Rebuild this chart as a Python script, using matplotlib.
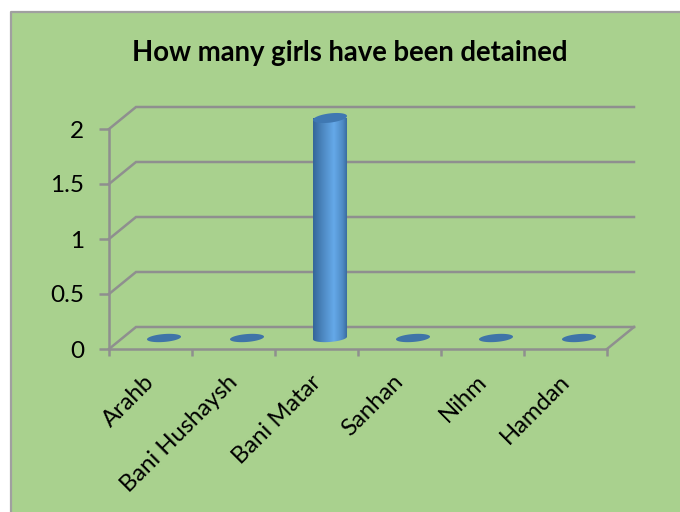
import numpy as np
import matplotlib
matplotlib.use('Agg')
import matplotlib.pyplot as plt
from matplotlib.patches import Rectangle, Polygon

districts = ['Arahb', 'Bani Hushaysh', 'Bani Matar', 'Sanhan', 'Nihm', 'Hamdan']
girls_detained = [0, 0, 2, 0, 0, 0]
value_ticks = [0, 0.5, 1, 1.5, 2]
value_labels = ['0', '0.5', '1', '1.5', '2']

plt.rcParams['font.family'] = ['Lato', 'DejaVu Sans']

GREEN = '#a9d18e'
LINE = '#8f8f8f'
LW = 1.8
depth_x = 27 / 83      # 3d offset of the back wall, in category units
depth_y = 22 / 110     # and in value units
bar_w = 0.205          # half width of cylinder
ell_h = 0.036          # half height of end caps
ell_tilt = 0.012

fig = plt.figure(figsize=(6.8, 5.12), dpi=100, facecolor='white')
fig.add_artist(Rectangle((11 / 680, 0), 669 / 680, 500 / 512, transform=fig.transFigure,
                         facecolor=GREEN, edgecolor='none', zorder=-2))
fig.add_artist(plt.Line2D([11 / 680, 11 / 680, 1], [0, 500 / 512, 500 / 512], color='#a0a0a0', lw=1.6, zorder=-1))

ax = fig.add_axes([109 / 680, 163 / 512, 498 / 680, 220 / 512])
ax.patch.set_alpha(0)
ax.set_xlim(-0.5, 5.5)
ax.set_ylim(0, 2)
for name in ['top', 'right']:
    ax.spines[name].set_visible(False)
for name in ['left', 'bottom']:
    ax.spines[name].set_color(LINE)
    ax.spines[name].set_linewidth(LW)

# back wall lines and side wall diagonals
for v in value_ticks:
    ax.plot([-0.5, -0.5 + depth_x, 5.5 + depth_x], [v, v + depth_y, v + depth_y],
            color=LINE, lw=LW, clip_on=False, zorder=1, solid_joinstyle='miter')
ax.plot([5.5, 5.5 + depth_x], [0, depth_y], color=LINE, lw=LW, clip_on=False, zorder=1)


def cap(xc, v, h=ell_h, tilt=ell_tilt):
    t = np.linspace(0, 2 * np.pi, 80)
    return np.column_stack([xc + bar_w * np.cos(t), v + h * np.sin(t) + tilt * np.cos(t)])


cx = np.arange(len(districts)) + depth_x / 2
for xc, val in zip(cx, girls_detained):
    base = depth_y / 2
    if val > 0:
        grad = np.interp(np.linspace(0, 1, 60), [0, 0.25, 0.6, 0.85, 1], [0, 0.45, 1, 0.55, 0])
        cmap = matplotlib.colors.LinearSegmentedColormap.from_list('cyl', ['#35679a', '#64a8e8'])
        im = ax.imshow(grad[None, :], cmap=cmap, aspect='auto', zorder=3,
                       extent=[xc - bar_w, xc + bar_w, base - 0.09, base + val])
        ax.set_xlim(-0.5, 5.5)
        ax.set_ylim(0, 2)
        # clip to body: straight sides, rounded bottom
        t = np.linspace(np.pi, 2 * np.pi, 40)
        outline = np.column_stack([xc + bar_w * np.cos(t), base + ell_h * np.sin(t) + ell_tilt * np.cos(t)])
        outline = np.vstack([outline, [xc + bar_w, base + val], [xc - bar_w, base + val]])
        clip = Polygon(outline, transform=ax.transData, facecolor='none', edgecolor='none', clip_on=False)
        ax.add_patch(clip)
        im.set_clip_path(clip)
        im.set_clip_box(fig.bbox)  # bar top sits above the axes box because of the depth offset
        ax.add_patch(Polygon(cap(xc, base + val, h=0.042, tilt=0.018), facecolor='#3f78b2',
                             edgecolor='none', zorder=4, clip_on=False))
    else:
        ax.add_patch(Polygon(cap(xc, base), facecolor='#3f74a8', edgecolor='none', zorder=2))

ax.set_yticks(value_ticks, value_labels)
ax.tick_params(axis='y', length=7, width=LW, color=LINE, labelsize=17.5, pad=11)
ax.set_xticks(np.arange(-0.5, 6, 1), [''] * 7)
ax.tick_params(axis='x', which='major', length=5, width=LW, color=LINE)
ax.set_xticks(np.arange(len(districts)) - 0.08, districts, minor=True)
ax.tick_params(axis='x', which='minor', length=0, pad=16, labelsize=17.2)
for lab in ax.get_xticklabels(minor=True):
    lab.set_rotation(45)
    lab.set_ha('right')
    lab.set_va('top')
    lab.set_rotation_mode('anchor')

fig.text(350 / 680, 1 - 53.5 / 512, 'How many girls have been detained', ha='center', va='center',
         fontsize=19.8, fontweight='bold', color='black')

fig.savefig('out.png', dpi=100)
